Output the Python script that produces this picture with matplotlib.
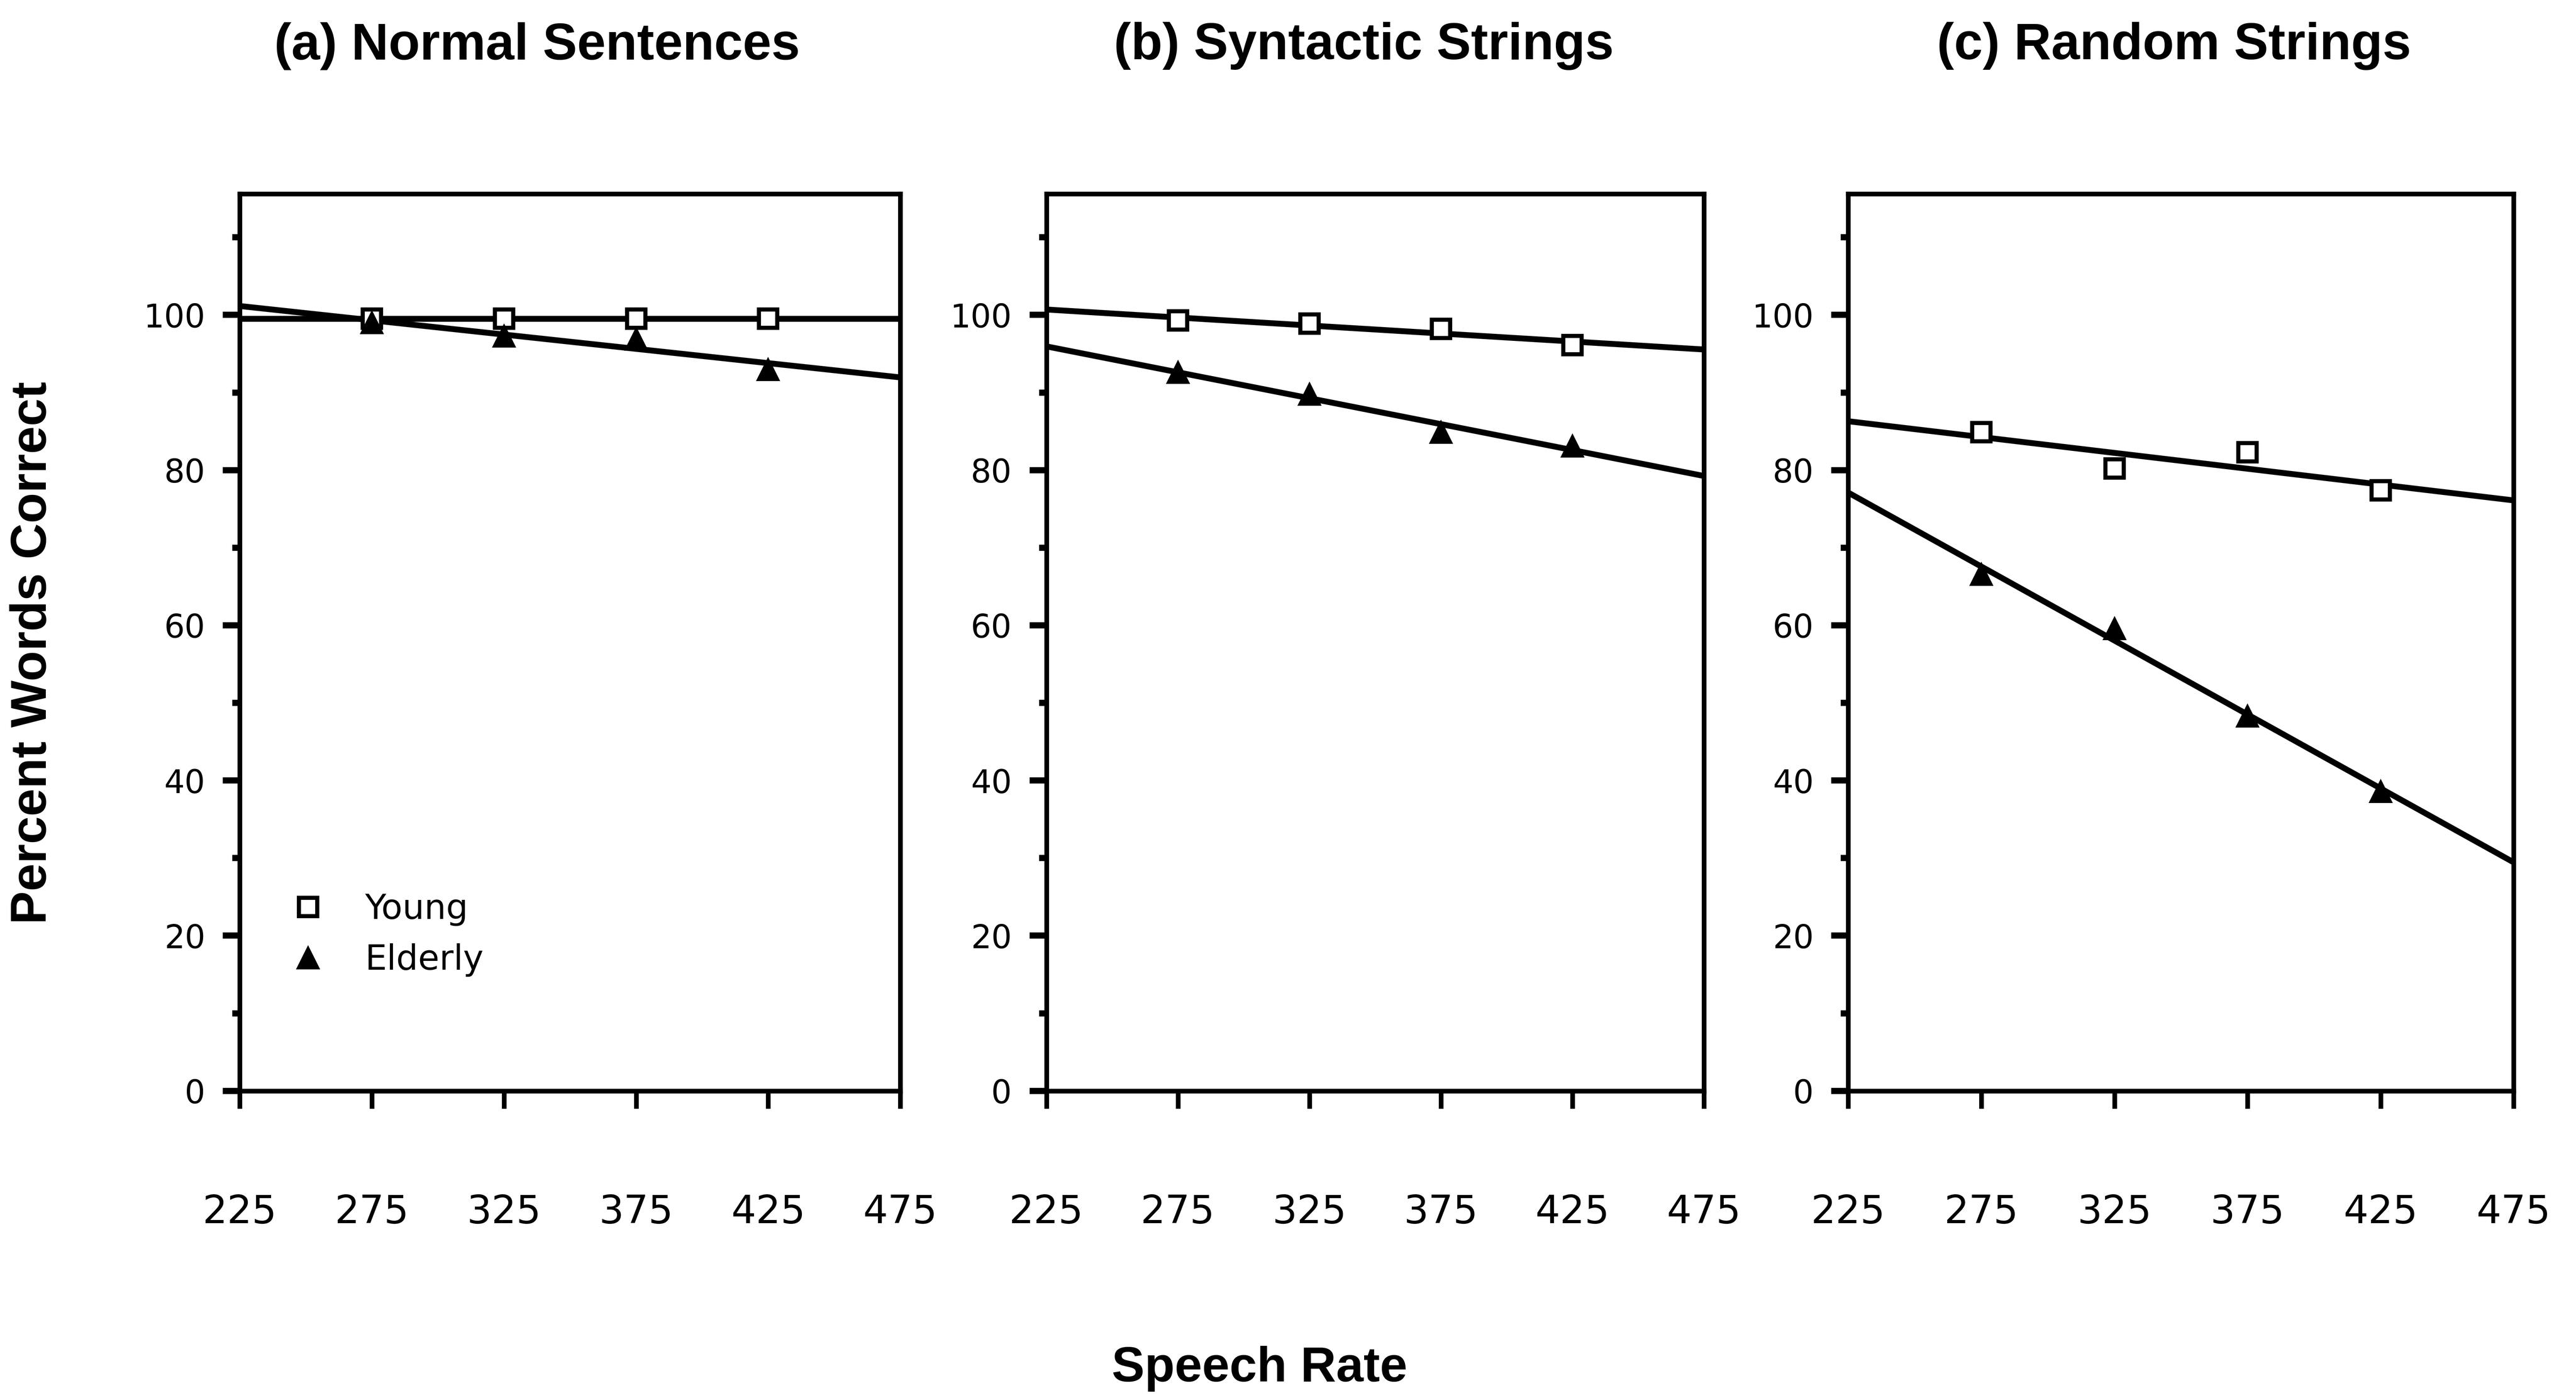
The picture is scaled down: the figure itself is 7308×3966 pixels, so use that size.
import numpy as np
import matplotlib
matplotlib.use("Agg")
import matplotlib.pyplot as plt
from matplotlib.ticker import MultipleLocator

# ---------------- data ----------------
rates = [275, 325, 375, 425]          # speech rate (words per minute)
fit_range = [225, 475]                # regression lines span the whole axis

panel_titles = ["(a) Normal Sentences", "(b) Syntactic Strings", "(c) Random Strings"]

young_normal = [99.5, 99.5, 99.5, 99.5]
elderly_normal = [99.0, 97.3, 96.9, 93.0]

young_syntactic = [99.3, 98.9, 98.2, 96.1]
elderly_syntactic = [92.6, 89.8, 84.9, 83.1]

young_random = [84.9, 80.2, 82.3, 77.4]
elderly_random = [66.6, 59.6, 48.3, 38.6]

young_all = [young_normal, young_syntactic, young_random]
elderly_all = [elderly_normal, elderly_syntactic, elderly_random]

x_ticks = [225, 275, 325, 375, 425, 475]
y_ticks = [0, 20, 40, 60, 80, 100]

# ---------------- style ----------------
BOLD = ["Liberation Sans", "DejaVu Sans"]
PLAIN = ["DejaVu Sans"]
LW_AX = 3.2
LW_FIT = 4.0

fig = plt.figure(figsize=(24.36, 13.22), dpi=300)

# axes boxes [left, bottom, width, height] in figure fractions
boxes = [
    [0.0931, 0.2197, 0.2564, 0.6416],
    [0.4062, 0.2197, 0.2552, 0.6416],
    [0.7175, 0.2197, 0.2583, 0.6416],
]
title_x = [0.2085, 0.5295, 0.8440]

axes = []
for i, box in enumerate(boxes):
    ax = fig.add_axes(box)
    axes.append(ax)
    yng = young_all[i]
    eld = elderly_all[i]

    # least-squares lines through each group
    xs = np.array(fit_range, dtype=float)
    for vals in (yng, eld):
        k, b = np.polyfit(rates, vals, 1)
        ax.plot(xs, k * xs + b, color="black", lw=LW_FIT, solid_capstyle="butt",
                zorder=2)

    ax.plot(rates, yng, linestyle="none", marker="s", markersize=12.5,
            markerfacecolor="white", markeredgecolor="black",
            markeredgewidth=2.8, zorder=3, label="Young")
    ax.plot(rates, eld, linestyle="none", marker="^", markersize=15,
            markerfacecolor="black", markeredgecolor="black",
            markeredgewidth=1.0, zorder=3, label="Elderly")

    ax.set_xlim(225, 475)
    ax.set_ylim(0, 115.6)
    ax.set_xticks(x_ticks)
    ax.set_yticks(y_ticks)
    ax.yaxis.set_minor_locator(MultipleLocator(10))

    for sp in ax.spines.values():
        sp.set_linewidth(LW_AX)

    ax.tick_params(axis="x", which="major", direction="out", length=12,
                   width=LW_AX, pad=58, labelsize=26.5)
    ax.tick_params(axis="y", which="major", direction="out", length=11.5,
                   width=4.2, pad=12, labelsize=22)
    ax.tick_params(axis="y", which="minor", direction="out", length=5,
                   width=4.2)
    for lab in ax.get_xticklabels() + ax.get_yticklabels():
        lab.set_fontfamily(PLAIN)

    fig.text(title_x[i], 0.967, panel_titles[i], ha="center", va="center",
             fontsize=35, fontweight="bold", family=BOLD)

# legend inside the first panel
axes[0].legend(loc="upper left", bbox_to_anchor=(0.077, 0.221), frameon=False,
               prop={"family": PLAIN, "size": 23.5}, handlelength=1.0,
               handletextpad=1.15, labelspacing=0.5, borderpad=0,
               borderaxespad=0, numpoints=1)

fig.text(0.0128, 0.533, "Percent Words Correct", rotation=90, ha="center",
         va="center", fontsize=34, fontweight="bold", family=BOLD)
fig.text(0.489, 0.021, "Speech Rate", ha="center", va="center",
         fontsize=33.5, fontweight="bold", family=BOLD)

fig.savefig("out.png", dpi=300, facecolor="white")
